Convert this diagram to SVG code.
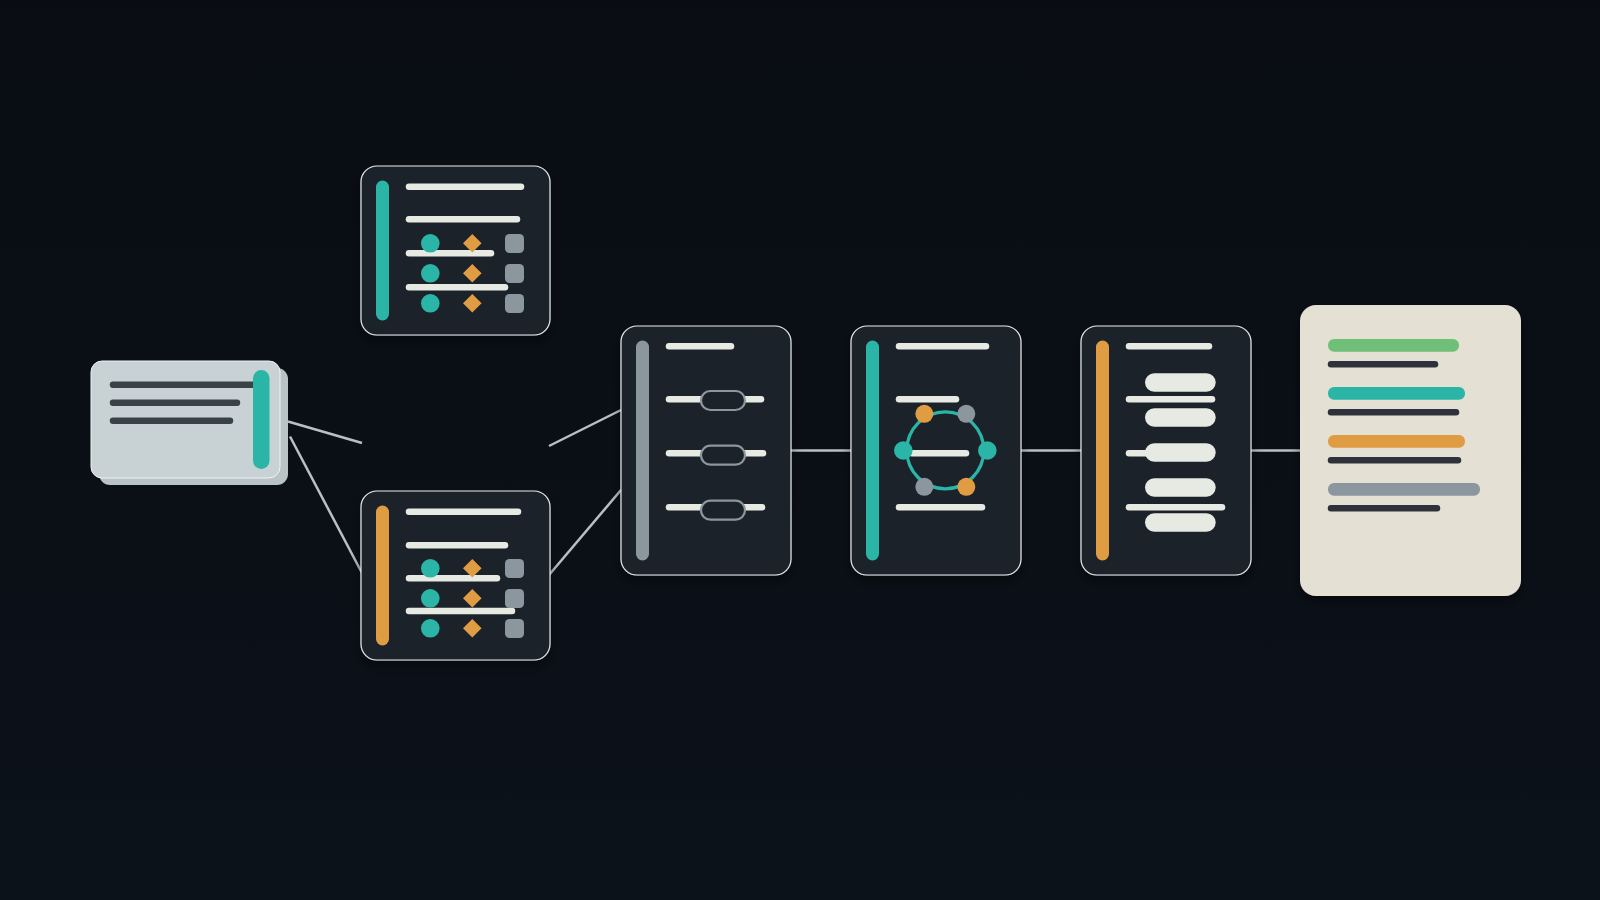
<svg xmlns="http://www.w3.org/2000/svg" width="1600" height="900" viewBox="0 0 1600 900">
  <defs>
    <linearGradient id="bg" x1="0" y1="0" x2="0" y2="1">
      <stop offset="0" stop-color="#090d13"/>
      <stop offset="1" stop-color="#0c121a"/>
    </linearGradient>
    <filter id="sh" x="-20%" y="-20%" width="140%" height="150%">
      <feDropShadow dx="0" dy="6" stdDeviation="6" flood-color="#000" flood-opacity="0.45"/>
    </filter>
  </defs>
  <style>
    .node { fill: #1c232c; stroke: #e6eaee; stroke-width: 1.2; }
    .ln { stroke: #e6eae2; stroke-width: 6.5; stroke-linecap: round; }
    .dk { stroke: #3a4247; stroke-width: 6.5; stroke-linecap: round; }
    .dk2 { stroke: #2d333a; stroke-width: 6.5; stroke-linecap: round; }
    .bar { stroke-width: 13; stroke-linecap: round; }
    .conn { stroke: #b9c0c4; stroke-width: 2.5; fill: none; }
    .teal { fill: #2bb5a6; }
    .orange { fill: #e09c43; }
    .gray { fill: #8c969e; }
    .pill { fill: #1a2129; stroke: #8c969e; stroke-width: 2.2; }
    .wpill { fill: #e6eae2; }
  </style>
  <rect width="1600" height="900" fill="url(#bg)"/>

  <g id="connectors">
    <line class="conn" x1="288" y1="421.5" x2="362" y2="443"/>
    <line class="conn" x1="290" y1="436.5" x2="362" y2="573"/>
    <line class="conn" x1="549" y1="446" x2="621" y2="410"/>
    <line class="conn" x1="549" y1="575" x2="621" y2="490"/>
    <line class="conn" x1="791" y1="450.5" x2="851" y2="450.5"/>
    <line class="conn" x1="1021" y1="450.5" x2="1081" y2="450.5"/>
    <line class="conn" x1="1251" y1="450.5" x2="1300" y2="450.5"/>
  </g>

  <g id="input-card">
    <rect x="99" y="368" width="189" height="117" rx="11" fill="#b9c2c4"/>
    <rect x="91" y="361" width="189" height="117" rx="11" fill="#c8d2d4" stroke="#eef2f2" stroke-width="1"/>
    <line class="dk" x1="113" y1="384.7" x2="256" y2="384.7"/>
    <line class="dk" x1="113" y1="402.7" x2="237" y2="402.7"/>
    <line class="dk" x1="113" y1="420.7" x2="230" y2="420.7"/>
    <rect x="253" y="370" width="16.5" height="99" rx="8.2" class="teal"/>
  </g>

  <g id="matrix-top" filter="url(#sh)">
    <rect class="node" x="361" y="166" width="189" height="169" rx="16"/>
    <line class="bar" x1="382.5" y1="187" x2="382.5" y2="314" stroke="#2bb5a6"/>
    <line class="ln" x1="409" y1="186.7" x2="521" y2="186.7"/>
    <line class="ln" x1="409" y1="219.3" x2="517" y2="219.3"/>
    <line class="ln" x1="409" y1="253.3" x2="491" y2="253.3"/>
    <line class="ln" x1="409" y1="287.3" x2="505" y2="287.3"/>
    <circle class="teal" cx="430.3" cy="243.3" r="9.3"/>
    <circle class="teal" cx="430.3" cy="273.3" r="9.3"/>
    <circle class="teal" cx="430.3" cy="303.3" r="9.3"/>
    <path class="orange" d="M472.3 234 L481.6 243.3 L472.3 252.6 L463 243.3 Z"/>
    <path class="orange" d="M472.3 264 L481.6 273.3 L472.3 282.6 L463 273.3 Z"/>
    <path class="orange" d="M472.3 294 L481.6 303.3 L472.3 312.6 L463 303.3 Z"/>
    <rect class="gray" x="505" y="234" width="19" height="19" rx="4.5"/>
    <rect class="gray" x="505" y="264" width="19" height="19" rx="4.5"/>
    <rect class="gray" x="505" y="294" width="19" height="19" rx="4.5"/>
  </g>

  <g id="matrix-bottom" filter="url(#sh)">
    <rect class="node" x="361" y="491" width="189" height="169" rx="16"/>
    <line class="bar" x1="382.5" y1="512" x2="382.5" y2="639" stroke="#e09c43"/>
    <line class="ln" x1="409" y1="511.7" x2="518" y2="511.7"/>
    <line class="ln" x1="409" y1="545.3" x2="505" y2="545.3"/>
    <line class="ln" x1="409" y1="578.3" x2="497" y2="578.3"/>
    <line class="ln" x1="409" y1="611" x2="512" y2="611"/>
    <circle class="teal" cx="430.3" cy="568.3" r="9.3"/>
    <circle class="teal" cx="430.3" cy="598.3" r="9.3"/>
    <circle class="teal" cx="430.3" cy="628.3" r="9.3"/>
    <path class="orange" d="M472.3 559 L481.6 568.3 L472.3 577.6 L463 568.3 Z"/>
    <path class="orange" d="M472.3 589 L481.6 598.3 L472.3 607.6 L463 598.3 Z"/>
    <path class="orange" d="M472.3 619 L481.6 628.3 L472.3 637.6 L463 628.3 Z"/>
    <rect class="gray" x="505" y="559" width="19" height="19" rx="4.5"/>
    <rect class="gray" x="505" y="589" width="19" height="19" rx="4.5"/>
    <rect class="gray" x="505" y="619" width="19" height="19" rx="4.5"/>
  </g>

  <g id="sliders" filter="url(#sh)">
    <rect class="node" x="621" y="326" width="170" height="249" rx="16"/>
    <line class="bar" x1="642.5" y1="347" x2="642.5" y2="554" stroke="#8c969e"/>
    <line class="ln" x1="669" y1="346.3" x2="731" y2="346.3"/>
    <line class="ln" x1="669" y1="399.3" x2="761" y2="399.3"/>
    <line class="ln" x1="669" y1="453.3" x2="763" y2="453.3"/>
    <line class="ln" x1="669" y1="507.3" x2="762" y2="507.3"/>
    <rect class="pill" x="701" y="391" width="44" height="19" rx="9.5"/>
    <rect class="pill" x="701" y="445.7" width="44" height="19" rx="9.5"/>
    <rect class="pill" x="701" y="500.7" width="44" height="19" rx="9.5"/>
  </g>

  <g id="ring" filter="url(#sh)">
    <rect class="node" x="851" y="326" width="170" height="249" rx="16"/>
    <line class="bar" x1="872.5" y1="347" x2="872.5" y2="554" stroke="#2bb5a6"/>
    <line class="ln" x1="899" y1="346.3" x2="986" y2="346.3"/>
    <line class="ln" x1="899" y1="399.3" x2="956" y2="399.3"/>
    <line class="ln" x1="912" y1="453.3" x2="966" y2="453.3"/>
    <line class="ln" x1="899" y1="507.3" x2="982" y2="507.3"/>
    <circle cx="945.3" cy="450.3" r="38.5" fill="none" stroke="#2bb5a6" stroke-width="3.3"/>
    <circle class="teal" cx="903.3" cy="450.5" r="9.3"/>
    <circle class="teal" cx="987.3" cy="450.5" r="9.3"/>
    <circle class="orange" cx="924.3" cy="413.8" r="9"/>
    <circle class="gray" cx="966.3" cy="413.8" r="9"/>
    <circle class="gray" cx="924.3" cy="486.8" r="9"/>
    <circle class="orange" cx="966.3" cy="486.8" r="9"/>
  </g>

  <g id="stack" filter="url(#sh)">
    <rect class="node" x="1081" y="326" width="170" height="249" rx="16"/>
    <line class="bar" x1="1102.5" y1="347" x2="1102.5" y2="554" stroke="#e09c43"/>
    <line class="ln" x1="1129" y1="346.3" x2="1209" y2="346.3"/>
    <line class="ln" x1="1129" y1="399.3" x2="1212" y2="399.3"/>
    <line class="ln" x1="1129" y1="453.3" x2="1160" y2="453.3"/>
    <line class="ln" x1="1129" y1="507.3" x2="1222" y2="507.3"/>
    <rect class="wpill" x="1145" y="373.3" width="70.7" height="18.4" rx="9.2"/>
    <rect class="wpill" x="1145" y="408.3" width="70.7" height="18.4" rx="9.2"/>
    <rect class="wpill" x="1145" y="443.3" width="70.7" height="18.4" rx="9.2"/>
    <rect class="wpill" x="1145" y="478.3" width="70.7" height="18.4" rx="9.2"/>
    <rect class="wpill" x="1145" y="513.3" width="70.7" height="18.4" rx="9.2"/>
  </g>

  <g id="output-card" filter="url(#sh)">
    <rect x="1300" y="305" width="221" height="291" rx="16" fill="#e4e0d4"/>
    <rect x="1328" y="339" width="131" height="12.7" rx="6" fill="#6fbf78"/>
    <line class="dk2" x1="1331" y1="364.3" x2="1435" y2="364.3"/>
    <rect x="1328" y="387" width="137" height="12.7" rx="6" fill="#2bb5a6"/>
    <line class="dk2" x1="1331" y1="412.3" x2="1456" y2="412.3"/>
    <rect x="1328" y="435" width="137" height="12.7" rx="6" fill="#e09c43"/>
    <line class="dk2" x1="1331" y1="460.3" x2="1458" y2="460.3"/>
    <rect x="1328" y="483" width="152" height="12.7" rx="6" fill="#8c969e"/>
    <line class="dk2" x1="1331" y1="508.3" x2="1437" y2="508.3"/>
  </g>
</svg>
